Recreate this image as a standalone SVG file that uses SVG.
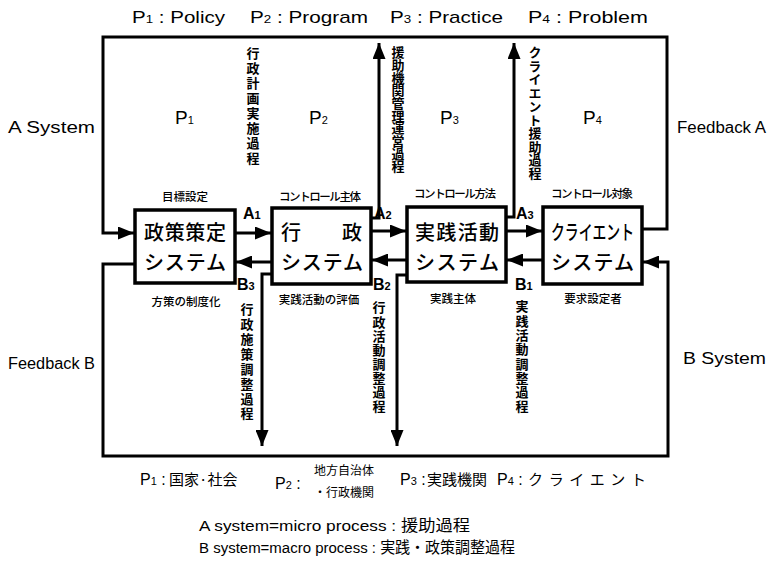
<svg xmlns="http://www.w3.org/2000/svg" width="771" height="567" viewBox="0 0 771 567">
<style>
.lat{font-family:"Liberation Sans","Noto Sans CJK JP",sans-serif;fill:#000}
.jp{font-family:"Noto Sans CJK JP",sans-serif;fill:#000}
.top{font-size:17px}
.side{font-size:16px}
.pbig{font-size:19px}
.sub{font-size:11px}
.box{fill:#fff;stroke:#000;stroke-width:3.5}
.bt{font-size:20px;font-weight:500}
.cap{font-size:11.5px;font-weight:500;text-anchor:middle}
.ab{font-size:16px;font-weight:bold}
.vt{font-size:13px;font-weight:bold;writing-mode:vertical-rl;text-orientation:upright}
.ln{fill:none;stroke:#000;stroke-width:3}
.bot{font-size:16px}
.bj{font-size:15px}
.foot{font-size:15.5px}
</style>
<defs>
<marker id="ah" markerUnits="userSpaceOnUse" markerWidth="17" markerHeight="13" refX="16" refY="6.5" orient="auto">
<path d="M0,0 L16,6.5 L0,13 z" fill="#000"/>
</marker>
</defs>
<rect width="771" height="567" fill="#fff"/>

<g id="labels-top">
<text class="lat top" x="132" y="23" textLength="93" lengthAdjust="spacingAndGlyphs">P<tspan class="sub">1</tspan> : Policy</text>
<text class="lat top" x="250" y="23" textLength="118" lengthAdjust="spacingAndGlyphs">P<tspan class="sub">2</tspan> : Program</text>
<text class="lat top" x="390" y="23" textLength="113" lengthAdjust="spacingAndGlyphs">P<tspan class="sub">3</tspan> : Practice</text>
<text class="lat top" x="528" y="23" textLength="120" lengthAdjust="spacingAndGlyphs">P<tspan class="sub">4</tspan> : Problem</text>
<text class="lat side" x="8" y="133" textLength="87" lengthAdjust="spacingAndGlyphs">A System</text>
<text class="lat side" x="677" y="133" textLength="89" lengthAdjust="spacingAndGlyphs">Feedback A</text>
<text class="lat pbig" x="175" y="124">P<tspan class="sub">1</tspan></text>
<text class="lat pbig" x="309" y="124">P<tspan class="sub">2</tspan></text>
<text class="lat pbig" x="440" y="124">P<tspan class="sub">3</tspan></text>
<text class="lat pbig" x="583" y="124">P<tspan class="sub">4</tspan></text>
<text class="jp vt" x="253" y="47" textLength="118">行政計画実施過程</text>
<text class="jp vt" x="398" y="46" textLength="127">援助機関管理運営過程</text>
<text class="jp vt" x="535" y="46" textLength="134">クライエント援助過程</text>
</g>

<g id="connectors">
<path class="ln" d="M643,229 H667 V37 H103 V233 H134" marker-end="url(#ah)"/>
<path class="ln" d="M135,264 H103 V456 H668 V262 H643" marker-end="url(#ah)"/>
<path class="ln" d="M236,233 H271" marker-end="url(#ah)"/>
<path class="ln" d="M271,262 H236" marker-end="url(#ah)"/>
<path class="ln" d="M372,231 H406" marker-end="url(#ah)"/>
<path class="ln" d="M406,260 H372" marker-end="url(#ah)"/>
<path class="ln" d="M507,231 H542" marker-end="url(#ah)"/>
<path class="ln" d="M542,260 H507" marker-end="url(#ah)"/>
<path class="ln" d="M372,218 H379 V43" marker-end="url(#ah)"/>
<path class="ln" d="M507,217 H514 V43" marker-end="url(#ah)"/>
<path class="ln" d="M271,274 H262 V446" marker-end="url(#ah)"/>
<path class="ln" d="M406,275 H397 V446" marker-end="url(#ah)"/>
</g>

<g id="ab-labels">
<text class="lat ab" x="243" y="219">A<tspan class="sub">1</tspan></text>
<text class="lat ab" x="374" y="219">A<tspan class="sub">2</tspan></text>
<text class="lat ab" x="516" y="219">A<tspan class="sub">3</tspan></text>
<text class="lat ab" x="237" y="290">B<tspan class="sub">3</tspan></text>
<text class="lat ab" x="373" y="290">B<tspan class="sub">2</tspan></text>
<text class="lat ab" x="515" y="290">B<tspan class="sub">1</tspan></text>
</g>

<g id="node-policy">
<rect class="box" x="135" y="210" width="100" height="73"/>
<text class="jp cap" x="185" y="201">目標設定</text>
<text class="jp bt" x="144" y="240" textLength="82">政策策定</text>
<text class="jp bt" x="144" y="270" textLength="82">システム</text>
<text class="jp cap" x="186" y="306">方策の制度化</text>
</g>

<g id="node-admin">
<rect class="box" x="272" y="208" width="99" height="76"/>
<text class="jp cap" x="320" y="201" textLength="82">コントロール主体</text>
<text class="jp bt" x="281" y="240">行</text>
<text class="jp bt" x="342" y="240">政</text>
<text class="jp bt" x="281" y="270" textLength="82">システム</text>
<text class="jp cap" x="319" y="304">実践活動の評価</text>
</g>

<g id="node-practice">
<rect class="box" x="407" y="207" width="99" height="75"/>
<text class="jp cap" x="455" y="198" textLength="82">コントロール方法</text>
<text class="jp bt" x="415" y="240" textLength="84">実践活動</text>
<text class="jp bt" x="415" y="270" textLength="84">システム</text>
<text class="jp cap" x="453" y="303">実践主体</text>
</g>

<g id="node-client">
<rect class="box" x="543" y="207" width="99" height="77"/>
<text class="jp cap" x="592" y="198" textLength="82">コントロール対象</text>
<text class="jp bt" x="551" y="240" textLength="83" lengthAdjust="spacingAndGlyphs">クライエント</text>
<text class="jp bt" x="551" y="270" textLength="83">システム</text>
<text class="jp cap" x="593" y="303">要求設定者</text>
</g>

<g id="labels-bottom">
<text class="jp vt" x="247" y="303" textLength="117">行政施策調整過程</text>
<text class="jp vt" x="379" y="301" textLength="112">行政活動調整過程</text>
<text class="jp vt" x="522" y="300" textLength="113">実践活動調整過程</text>
<text class="lat side" x="8" y="369" textLength="87" lengthAdjust="spacingAndGlyphs">Feedback B</text>
<text class="lat side" x="683" y="364" textLength="83" lengthAdjust="spacingAndGlyphs">B System</text>
<text class="lat bot" x="140" y="485">P<tspan class="sub">1</tspan> :</text>
<text class="jp bj" x="169" y="485">国家·社会</text>
<text class="lat bot" x="275" y="489">P<tspan class="sub">2</tspan> :</text>
<text class="jp" font-size="12" x="314" y="475">地方自治体</text>
<text class="jp" font-size="12" x="314" y="497">・行政機関</text>
<text class="lat bot" x="400" y="485">P<tspan class="sub">3</tspan> :</text>
<text class="jp bj" x="427" y="485">実践機関</text>
<text class="lat bot" x="497" y="485">P<tspan class="sub">4</tspan> :</text>
<text class="jp bj" x="528" y="485" textLength="118">クライエント</text>
<text class="lat foot" x="199" y="531" textLength="271" lengthAdjust="spacingAndGlyphs">A system=micro  process : <tspan class="jp">援助過程</tspan></text>
<text class="lat foot" x="199" y="553" textLength="316" lengthAdjust="spacingAndGlyphs">B system=macro process : <tspan class="jp">実践・政策調整過程</tspan></text>
</g>
</svg>
